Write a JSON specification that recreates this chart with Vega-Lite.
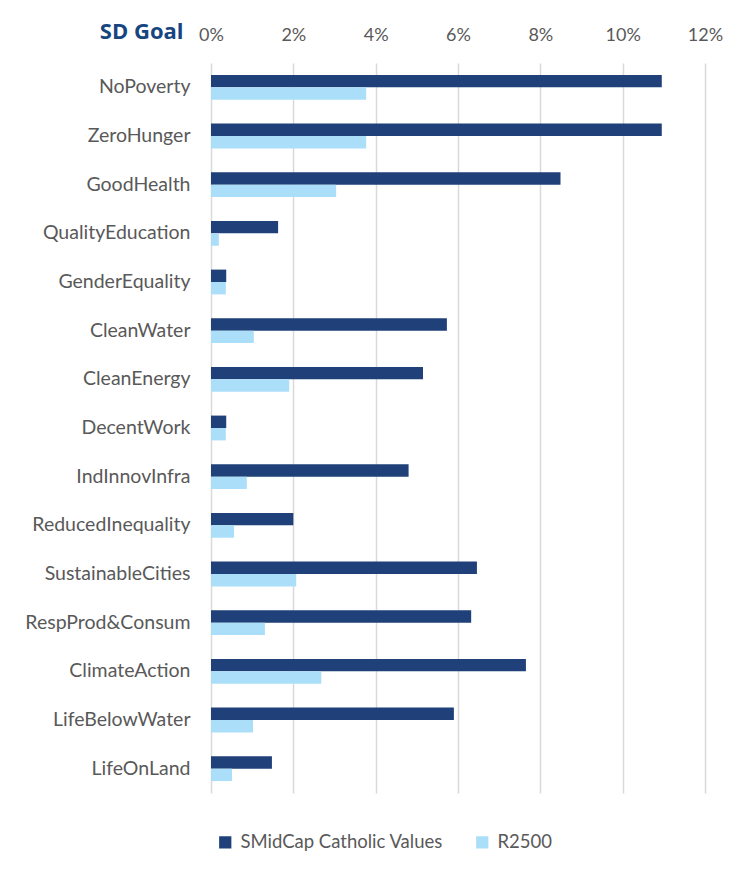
{
  "$schema": "https://vega.github.io/schema/vega-lite/v6.json",
  "autosize": "none",
  "width": 494,
  "height": 730,
  "padding": {"left": 211, "top": 63, "right": 49, "bottom": 81},
  "background": "white",
  "config": {
    "view": {"stroke": null},
    "font": "Lato"
  },
  "data": {
    "values": [
      {"goal": "NoPoverty", "series": "SMidCap Catholic Values", "value": 0.1095},
      {"goal": "NoPoverty", "series": "R2500", "value": 0.0377},
      {"goal": "ZeroHunger", "series": "SMidCap Catholic Values", "value": 0.1095},
      {"goal": "ZeroHunger", "series": "R2500", "value": 0.0377},
      {"goal": "GoodHealth", "series": "SMidCap Catholic Values", "value": 0.0849},
      {"goal": "GoodHealth", "series": "R2500", "value": 0.0304},
      {"goal": "QualityEducation", "series": "SMidCap Catholic Values", "value": 0.0163},
      {"goal": "QualityEducation", "series": "R2500", "value": 0.0019},
      {"goal": "GenderEquality", "series": "SMidCap Catholic Values", "value": 0.0037},
      {"goal": "GenderEquality", "series": "R2500", "value": 0.0036},
      {"goal": "CleanWater", "series": "SMidCap Catholic Values", "value": 0.0573},
      {"goal": "CleanWater", "series": "R2500", "value": 0.0104},
      {"goal": "CleanEnergy", "series": "SMidCap Catholic Values", "value": 0.0515},
      {"goal": "CleanEnergy", "series": "R2500", "value": 0.019},
      {"goal": "DecentWork", "series": "SMidCap Catholic Values", "value": 0.0037},
      {"goal": "DecentWork", "series": "R2500", "value": 0.0036},
      {"goal": "IndInnovInfra", "series": "SMidCap Catholic Values", "value": 0.048},
      {"goal": "IndInnovInfra", "series": "R2500", "value": 0.0087},
      {"goal": "ReducedInequality", "series": "SMidCap Catholic Values", "value": 0.02},
      {"goal": "ReducedInequality", "series": "R2500", "value": 0.0056},
      {"goal": "SustainableCities", "series": "SMidCap Catholic Values", "value": 0.0646},
      {"goal": "SustainableCities", "series": "R2500", "value": 0.0207},
      {"goal": "RespProd&Consum", "series": "SMidCap Catholic Values", "value": 0.0632},
      {"goal": "RespProd&Consum", "series": "R2500", "value": 0.0131},
      {"goal": "ClimateAction", "series": "SMidCap Catholic Values", "value": 0.0765},
      {"goal": "ClimateAction", "series": "R2500", "value": 0.0268},
      {"goal": "LifeBelowWater", "series": "SMidCap Catholic Values", "value": 0.059},
      {"goal": "LifeBelowWater", "series": "R2500", "value": 0.0102},
      {"goal": "LifeOnLand", "series": "SMidCap Catholic Values", "value": 0.0148},
      {"goal": "LifeOnLand", "series": "R2500", "value": 0.0051}
    ]
  },
  "mark": {"type": "bar"},
  "encoding": {
    "y": {
      "field": "goal",
      "type": "nominal",
      "sort": null,
      "scale": {"paddingInner": 0.49, "paddingOuter": 0.245},
      "axis": {
        "title": "SD Goal",
        "titleAngle": 0,
        "titleAlign": "right",
        "titleBaseline": "middle",
        "titleX": -28,
        "titleY": -32,
        "titleFont": "Open Sans",
        "titleFontSize": 22,
        "titleFontWeight": "bold",
        "titleColor": "#17457F",
        "domain": false,
        "ticks": false,
        "tickSize": 0,
        "labelPadding": 21,
        "labelFontSize": 19.5,
        "labelColor": "#595959",
        "labelFont": "Lato",
        "labelLimit": 300
      }
    },
    "yOffset": {
      "field": "series",
      "type": "nominal",
      "sort": ["SMidCap Catholic Values", "R2500"]
    },
    "x": {
      "field": "value",
      "type": "quantitative",
      "scale": {"domain": [0, 0.12], "nice": false},
      "axis": {
        "orient": "top",
        "title": null,
        "format": ".0%",
        "values": [0, 0.02, 0.04, 0.06, 0.08, 0.1, 0.12],
        "domain": false,
        "ticks": false,
        "tickSize": 0,
        "labelFlush": false,
        "labelBound": false,
        "labelPadding": 19,
        "labelFontSize": 18,
        "labelColor": "#595959",
        "labelFont": "Lato",
        "grid": true,
        "gridColor": "#D9D9D9",
        "gridWidth": 1.5
      }
    },
    "color": {
      "field": "series",
      "type": "nominal",
      "sort": ["SMidCap Catholic Values", "R2500"],
      "scale": {"domain": ["SMidCap Catholic Values", "R2500"], "range": ["#1F4079", "#ABDFF9"]},
      "legend": {
        "title": null,
        "orient": "none",
        "direction": "horizontal",
        "legendX": 5,
        "legendY": 770,
        "symbolType": "square",
        "symbolSize": 150,
        "symbolStrokeWidth": 0,
        "labelFontSize": 18.5,
        "labelColor": "#595959",
        "labelFont": "Lato",
        "labelLimit": 400,
        "columnPadding": 30,
        "labelOffset": 6
      }
    }
  }
}
